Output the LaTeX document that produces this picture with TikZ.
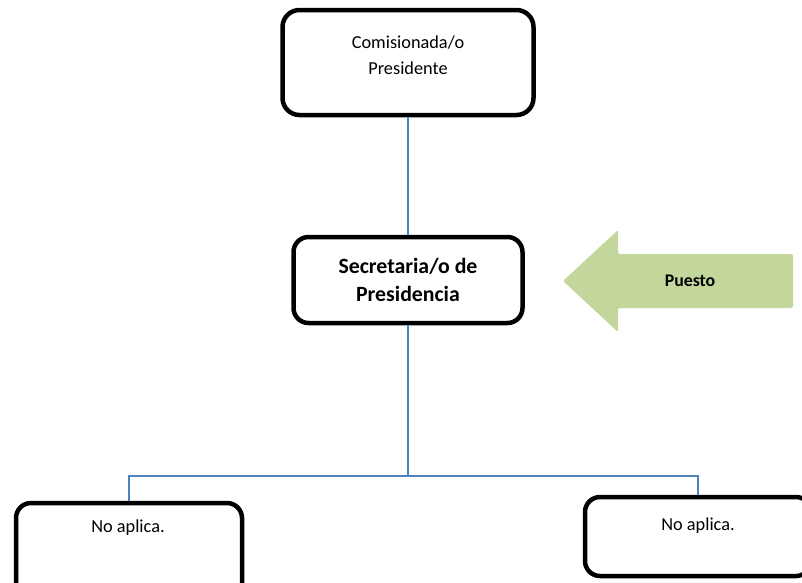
\documentclass[tikz,border=0pt]{standalone}
\usepackage{fontspec}
\setmainfont{Carlito}
\usepackage{tikz}
\usepackage{xcolor}
\definecolor{myolive}{HTML}{C3D69B}
\definecolor{myblue}{HTML}{4F81BD}

\begin{document}
\begin{tikzpicture}[x=1pt, y=-1pt,
    box/.style={draw=black, line width=4.5pt, rounded corners=15pt, fill=white, inner sep=0pt},
    conn/.style={draw=myblue, line width=1.5pt},
    txt/.style={align=center, font=\fontsize{18.3}{26}\selectfont}]
    \useasboundingbox (0, 0) rectangle (802, 582);
    \clip (0, 0) rectangle (802, 582);
    \fill[myolive, rounded corners=2pt] (563, 281) -- (618, 230) -- (618, 254) -- (793, 254) -- (793, 308) -- (618, 308) -- (618, 332) -- cycle;
    \node[font=\fontsize{17.8}{20}\selectfont\bfseries] (puesto) at (690, 281) {Puesto};
    \node[box, rounded corners=17pt, minimum width=251pt, minimum height=105pt] (pres) at (408, 62.5) {};
    \node[txt] (prestext) at (408, 55.5) {Comisionada/o\\Presidente};
    \node[box, minimum width=229pt, minimum height=86pt, align=center, font=\fontsize{21.8}{28}\selectfont\bfseries] (sec) at (408, 280) {Secretaria/o de\\Presidencia};
    \node[box, minimum width=226pt, minimum height=100pt] (na1) at (129, 553) {};
    \node[txt] (na1text) at (128, 528) {No aplica.};
    \node[box, minimum width=226pt, minimum height=79pt] (na2) at (698, 536.5) {};
    \node[txt] (na2text) at (698, 526) {No aplica.};
    \coordinate (hub) at (408, 476);
    \draw[conn] (pres.south) -- (sec.north);
    \draw[conn] (sec.south) -- (hub);
    \draw[conn] (na1.north) |- (hub) -| (na2.north);
\end{tikzpicture}
\end{document}
